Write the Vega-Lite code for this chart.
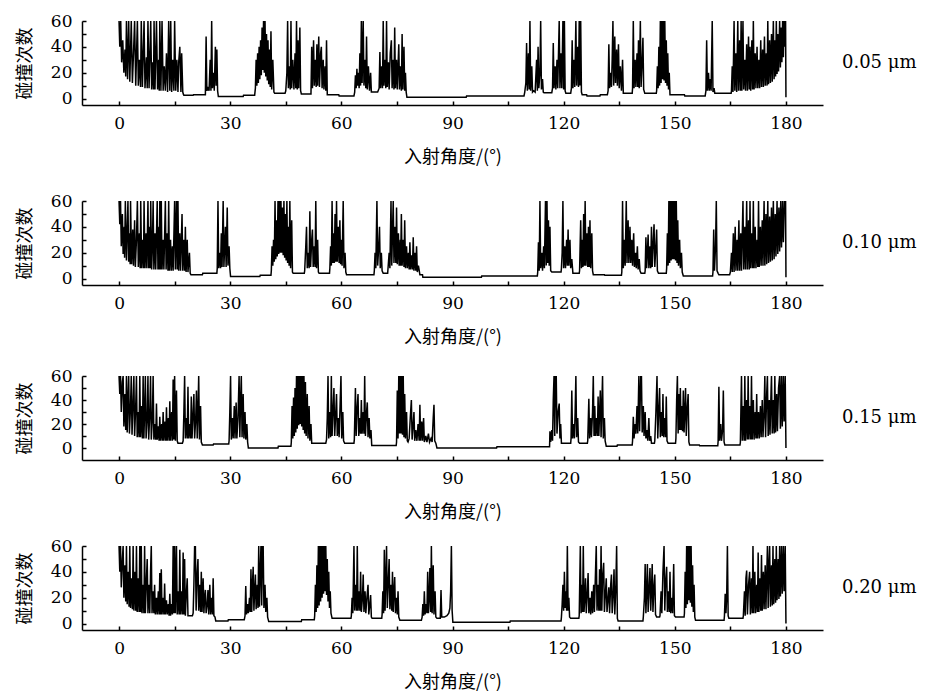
{"$schema":"https://vega.github.io/schema/vega-lite/v6.json","background":"white","padding":{"left":16,"top":12,"right":0,"bottom":0},
"config":{"view":{"stroke":null},
"axis":{"grid":false,"domainColor":"black","domainWidth":1.5,"tickColor":"black","tickWidth":1.5,"tickSize":-4,"labelColor":"black","labelFont":"DejaVu Serif","labelFontSize":17,"labelFlush":false,"labelOverlap":false,"titleColor":"black","titleFont":"Noto Sans CJK SC","titleFontSize":18,"titleFontWeight":"normal"},
"axisX":{"labelPadding":14,"titlePadding":17},
"axisY":{"labelPadding":14,"titlePadding":16},
"header":{"labelOrient":"right","labelAngle":0,"labelBaseline":"middle","labelFont":"DejaVu Serif","labelFontSize":18,"labelColor":"black","labelPadding":19,"labelExpr":"format(datum.value, '.2f') + ' μm'"}},
"spacing":21,
"vconcat":[
{"spacing":26,"vconcat":[
{"data":{"values":[{"p":0.05,"a":0,"c":60},{"p":0.05,"a":0.2,"c":40},{"p":0.05,"a":0.45,"c":60},{"p":0.05,"a":0.7,"c":28},{"p":0.05,"a":1.0,"c":45},{"p":0.05,"a":1.3,"c":20},{"p":0.05,"a":1.6,"c":38},{"p":0.05,"a":1.8,"c":17},{"p":0.05,"a":2.0,"c":60},{"p":0.05,"a":2.3,"c":15},{"p":0.05,"a":2.6,"c":60},{"p":0.05,"a":2.9,"c":13},{"p":0.05,"a":3.3,"c":60},{"p":0.05,"a":3.6,"c":12},{"p":0.05,"a":3.9,"c":35},{"p":0.05,"a":4.2,"c":60},{"p":0.05,"a":4.5,"c":10},{"p":0.05,"a":4.95,"c":60},{"p":0.05,"a":5.2,"c":10},{"p":0.05,"a":5.5,"c":30},{"p":0.05,"a":5.8,"c":9},{"p":0.05,"a":6.0,"c":60},{"p":0.05,"a":6.3,"c":9},{"p":0.05,"a":6.75,"c":60},{"p":0.05,"a":7.0,"c":8},{"p":0.05,"a":7.4,"c":32},{"p":0.05,"a":7.6,"c":8},{"p":0.05,"a":7.8,"c":60},{"p":0.05,"a":8.1,"c":8},{"p":0.05,"a":8.55,"c":60},{"p":0.05,"a":8.8,"c":7},{"p":0.05,"a":9.1,"c":28},{"p":0.05,"a":9.3,"c":7},{"p":0.05,"a":9.45,"c":60},{"p":0.05,"a":9.7,"c":7},{"p":0.05,"a":10.1,"c":60},{"p":0.05,"a":10.4,"c":7},{"p":0.05,"a":10.7,"c":30},{"p":0.05,"a":10.85,"c":6},{"p":0.05,"a":11.0,"c":60},{"p":0.05,"a":11.3,"c":6},{"p":0.05,"a":11.6,"c":60},{"p":0.05,"a":11.9,"c":6},{"p":0.05,"a":12.2,"c":25},{"p":0.05,"a":12.5,"c":6},{"p":0.05,"a":12.8,"c":35},{"p":0.05,"a":13.1,"c":5},{"p":0.05,"a":13.4,"c":60},{"p":0.05,"a":13.7,"c":6},{"p":0.05,"a":13.95,"c":60},{"p":0.05,"a":14.2,"c":5},{"p":0.05,"a":14.5,"c":30},{"p":0.05,"a":14.8,"c":6},{"p":0.05,"a":15.0,"c":60},{"p":0.05,"a":15.3,"c":6},{"p":0.05,"a":15.6,"c":30},{"p":0.05,"a":15.9,"c":5},{"p":0.05,"a":16.1,"c":28},{"p":0.05,"a":16.4,"c":40},{"p":0.05,"a":16.7,"c":5},{"p":0.05,"a":16.9,"c":35},{"p":0.05,"a":17.2,"c":5},{"p":0.05,"a":17.4,"c":3},{"p":0.05,"a":17.5,"c":2.5},{"p":0.05,"a":20.0,"c":2.5},{"p":0.05,"a":20.1,"c":3},{"p":0.05,"a":23.3,"c":3},{"p":0.05,"a":23.5,"c":48},{"p":0.05,"a":23.7,"c":6},{"p":0.05,"a":24.0,"c":8},{"p":0.05,"a":24.3,"c":6},{"p":0.05,"a":24.6,"c":30},{"p":0.05,"a":24.8,"c":6},{"p":0.05,"a":25.0,"c":60},{"p":0.05,"a":25.2,"c":8},{"p":0.05,"a":25.5,"c":20},{"p":0.05,"a":25.7,"c":6},{"p":0.05,"a":26.0,"c":40},{"p":0.05,"a":26.2,"c":10},{"p":0.05,"a":26.4,"c":38},{"p":0.05,"a":26.6,"c":6},{"p":0.05,"a":26.8,"c":1.5},{"p":0.05,"a":33.5,"c":1.5},{"p":0.05,"a":33.6,"c":2.5},{"p":0.05,"a":36.6,"c":2.5},{"p":0.05,"a":36.8,"c":8},{"p":0.05,"a":37.0,"c":30},{"p":0.05,"a":37.2,"c":10},{"p":0.05,"a":37.4,"c":35},{"p":0.05,"a":37.6,"c":12},{"p":0.05,"a":37.8,"c":40},{"p":0.05,"a":38.0,"c":15},{"p":0.05,"a":38.2,"c":45},{"p":0.05,"a":38.4,"c":18},{"p":0.05,"a":38.6,"c":55},{"p":0.05,"a":38.8,"c":22},{"p":0.05,"a":39.0,"c":60},{"p":0.05,"a":39.2,"c":20},{"p":0.05,"a":39.4,"c":60},{"p":0.05,"a":39.6,"c":17},{"p":0.05,"a":39.8,"c":50},{"p":0.05,"a":40.0,"c":14},{"p":0.05,"a":40.2,"c":45},{"p":0.05,"a":40.4,"c":11},{"p":0.05,"a":40.6,"c":38},{"p":0.05,"a":40.8,"c":9},{"p":0.05,"a":41.0,"c":52},{"p":0.05,"a":41.2,"c":7},{"p":0.05,"a":41.5,"c":30},{"p":0.05,"a":41.8,"c":5},{"p":0.05,"a":42.0,"c":4},{"p":0.05,"a":44.8,"c":4},{"p":0.05,"a":45.0,"c":6},{"p":0.05,"a":45.3,"c":20},{"p":0.05,"a":45.5,"c":60},{"p":0.05,"a":45.7,"c":8},{"p":0.05,"a":46.0,"c":25},{"p":0.05,"a":46.2,"c":7},{"p":0.05,"a":46.4,"c":60},{"p":0.05,"a":46.6,"c":8},{"p":0.05,"a":46.9,"c":30},{"p":0.05,"a":47.2,"c":7},{"p":0.05,"a":47.5,"c":35},{"p":0.05,"a":47.7,"c":8},{"p":0.05,"a":47.9,"c":60},{"p":0.05,"a":48.1,"c":7},{"p":0.05,"a":48.3,"c":45},{"p":0.05,"a":48.5,"c":8},{"p":0.05,"a":48.8,"c":55},{"p":0.05,"a":49.0,"c":6},{"p":0.05,"a":49.2,"c":3.5},{"p":0.05,"a":51.8,"c":3.5},{"p":0.05,"a":52.0,"c":40},{"p":0.05,"a":52.2,"c":8},{"p":0.05,"a":52.5,"c":45},{"p":0.05,"a":52.7,"c":10},{"p":0.05,"a":53.0,"c":30},{"p":0.05,"a":53.2,"c":9},{"p":0.05,"a":53.4,"c":42},{"p":0.05,"a":53.6,"c":10},{"p":0.05,"a":53.9,"c":48},{"p":0.05,"a":54.1,"c":9},{"p":0.05,"a":54.4,"c":35},{"p":0.05,"a":54.6,"c":40},{"p":0.05,"a":54.8,"c":8},{"p":0.05,"a":55.1,"c":30},{"p":0.05,"a":55.3,"c":7},{"p":0.05,"a":55.6,"c":25},{"p":0.05,"a":55.8,"c":6},{"p":0.05,"a":56.0,"c":45},{"p":0.05,"a":56.2,"c":3},{"p":0.05,"a":59.3,"c":3},{"p":0.05,"a":59.4,"c":2},{"p":0.05,"a":63.4,"c":2},{"p":0.05,"a":63.6,"c":5},{"p":0.05,"a":63.8,"c":18},{"p":0.05,"a":64.0,"c":8},{"p":0.05,"a":64.2,"c":23},{"p":0.05,"a":64.4,"c":10},{"p":0.05,"a":64.6,"c":20},{"p":0.05,"a":64.8,"c":8},{"p":0.05,"a":65.0,"c":35},{"p":0.05,"a":65.2,"c":10},{"p":0.05,"a":65.4,"c":60},{"p":0.05,"a":65.6,"c":12},{"p":0.05,"a":65.9,"c":60},{"p":0.05,"a":66.1,"c":10},{"p":0.05,"a":66.4,"c":30},{"p":0.05,"a":66.6,"c":8},{"p":0.05,"a":66.8,"c":48},{"p":0.05,"a":67.0,"c":7},{"p":0.05,"a":67.3,"c":25},{"p":0.05,"a":67.6,"c":6},{"p":0.05,"a":67.9,"c":20},{"p":0.05,"a":68.1,"c":5},{"p":0.05,"a":69.8,"c":5},{"p":0.05,"a":70.2,"c":8},{"p":0.05,"a":70.4,"c":36},{"p":0.05,"a":70.6,"c":8},{"p":0.05,"a":70.9,"c":25},{"p":0.05,"a":71.1,"c":8},{"p":0.05,"a":71.3,"c":60},{"p":0.05,"a":71.5,"c":10},{"p":0.05,"a":71.8,"c":30},{"p":0.05,"a":72.0,"c":8},{"p":0.05,"a":72.2,"c":60},{"p":0.05,"a":72.4,"c":9},{"p":0.05,"a":72.7,"c":28},{"p":0.05,"a":72.9,"c":7},{"p":0.05,"a":73.2,"c":35},{"p":0.05,"a":73.5,"c":45},{"p":0.05,"a":73.7,"c":8},{"p":0.05,"a":74.0,"c":30},{"p":0.05,"a":74.2,"c":7},{"p":0.05,"a":74.4,"c":55},{"p":0.05,"a":74.6,"c":8},{"p":0.05,"a":74.9,"c":30},{"p":0.05,"a":75.1,"c":7},{"p":0.05,"a":75.5,"c":42},{"p":0.05,"a":75.7,"c":7},{"p":0.05,"a":76.0,"c":25},{"p":0.05,"a":76.2,"c":6},{"p":0.05,"a":76.4,"c":50},{"p":0.05,"a":76.6,"c":7},{"p":0.05,"a":76.9,"c":40},{"p":0.05,"a":77.1,"c":6},{"p":0.05,"a":77.3,"c":20},{"p":0.05,"a":77.5,"c":5},{"p":0.05,"a":77.7,"c":1},{"p":0.05,"a":93.7,"c":1},{"p":0.05,"a":93.8,"c":2},{"p":0.05,"a":109.3,"c":2},{"p":0.05,"a":109.5,"c":5},{"p":0.05,"a":109.8,"c":12},{"p":0.05,"a":110.0,"c":43},{"p":0.05,"a":110.2,"c":6},{"p":0.05,"a":110.5,"c":35},{"p":0.05,"a":110.7,"c":7},{"p":0.05,"a":110.9,"c":60},{"p":0.05,"a":111.1,"c":6},{"p":0.05,"a":111.4,"c":25},{"p":0.05,"a":111.6,"c":5},{"p":0.05,"a":111.9,"c":6},{"p":0.05,"a":112.3,"c":5},{"p":0.05,"a":112.7,"c":30},{"p":0.05,"a":112.9,"c":6},{"p":0.05,"a":113.1,"c":40},{"p":0.05,"a":113.3,"c":8},{"p":0.05,"a":113.6,"c":20},{"p":0.05,"a":113.8,"c":60},{"p":0.05,"a":114.0,"c":7},{"p":0.05,"a":114.3,"c":15},{"p":0.05,"a":114.5,"c":5},{"p":0.05,"a":114.7,"c":4.5},{"p":0.05,"a":116.8,"c":4.5},{"p":0.05,"a":117.0,"c":8},{"p":0.05,"a":117.2,"c":43},{"p":0.05,"a":117.4,"c":8},{"p":0.05,"a":117.7,"c":25},{"p":0.05,"a":117.9,"c":7},{"p":0.05,"a":118.2,"c":30},{"p":0.05,"a":118.4,"c":8},{"p":0.05,"a":118.8,"c":60},{"p":0.05,"a":119.0,"c":8},{"p":0.05,"a":119.3,"c":35},{"p":0.05,"a":119.5,"c":8},{"p":0.05,"a":119.8,"c":60},{"p":0.05,"a":120.0,"c":7},{"p":0.05,"a":120.2,"c":60},{"p":0.05,"a":120.4,"c":6},{"p":0.05,"a":120.6,"c":4},{"p":0.05,"a":121.9,"c":4},{"p":0.05,"a":122.1,"c":8},{"p":0.05,"a":122.3,"c":45},{"p":0.05,"a":122.5,"c":8},{"p":0.05,"a":122.8,"c":30},{"p":0.05,"a":123.0,"c":9},{"p":0.05,"a":123.3,"c":60},{"p":0.05,"a":123.5,"c":10},{"p":0.05,"a":123.8,"c":40},{"p":0.05,"a":124.0,"c":9},{"p":0.05,"a":124.2,"c":60},{"p":0.05,"a":124.4,"c":10},{"p":0.05,"a":124.6,"c":60},{"p":0.05,"a":124.8,"c":5},{"p":0.05,"a":125.0,"c":3},{"p":0.05,"a":126.2,"c":3},{"p":0.05,"a":126.3,"c":2},{"p":0.05,"a":129.8,"c":2},{"p":0.05,"a":129.9,"c":3},{"p":0.05,"a":131.8,"c":3},{"p":0.05,"a":132.0,"c":6},{"p":0.05,"a":132.2,"c":42},{"p":0.05,"a":132.4,"c":8},{"p":0.05,"a":132.7,"c":20},{"p":0.05,"a":132.9,"c":9},{"p":0.05,"a":133.1,"c":30},{"p":0.05,"a":133.3,"c":60},{"p":0.05,"a":133.5,"c":10},{"p":0.05,"a":133.8,"c":48},{"p":0.05,"a":134.0,"c":12},{"p":0.05,"a":134.3,"c":38},{"p":0.05,"a":134.5,"c":10},{"p":0.05,"a":134.8,"c":42},{"p":0.05,"a":135.0,"c":8},{"p":0.05,"a":135.3,"c":25},{"p":0.05,"a":135.6,"c":6},{"p":0.05,"a":135.9,"c":30},{"p":0.05,"a":136.1,"c":4},{"p":0.05,"a":138.5,"c":4},{"p":0.05,"a":138.6,"c":8},{"p":0.05,"a":138.8,"c":60},{"p":0.05,"a":139.0,"c":8},{"p":0.05,"a":139.3,"c":30},{"p":0.05,"a":139.5,"c":9},{"p":0.05,"a":139.8,"c":35},{"p":0.05,"a":140.0,"c":9},{"p":0.05,"a":140.2,"c":45},{"p":0.05,"a":140.4,"c":8},{"p":0.05,"a":140.7,"c":60},{"p":0.05,"a":140.9,"c":9},{"p":0.05,"a":141.2,"c":30},{"p":0.05,"a":141.4,"c":47},{"p":0.05,"a":141.6,"c":7},{"p":0.05,"a":141.9,"c":4},{"p":0.05,"a":145.0,"c":4},{"p":0.05,"a":145.1,"c":6},{"p":0.05,"a":145.3,"c":25},{"p":0.05,"a":145.5,"c":8},{"p":0.05,"a":145.7,"c":40},{"p":0.05,"a":145.9,"c":10},{"p":0.05,"a":146.1,"c":60},{"p":0.05,"a":146.3,"c":12},{"p":0.05,"a":146.5,"c":60},{"p":0.05,"a":146.7,"c":15},{"p":0.05,"a":146.9,"c":60},{"p":0.05,"a":147.1,"c":14},{"p":0.05,"a":147.3,"c":60},{"p":0.05,"a":147.5,"c":12},{"p":0.05,"a":147.7,"c":45},{"p":0.05,"a":147.9,"c":10},{"p":0.05,"a":148.1,"c":35},{"p":0.05,"a":148.3,"c":7},{"p":0.05,"a":148.5,"c":20},{"p":0.05,"a":148.7,"c":3},{"p":0.05,"a":152.6,"c":3},{"p":0.05,"a":152.7,"c":2},{"p":0.05,"a":158.2,"c":2},{"p":0.05,"a":158.4,"c":6},{"p":0.05,"a":158.6,"c":45},{"p":0.05,"a":158.8,"c":6},{"p":0.05,"a":159.1,"c":20},{"p":0.05,"a":159.3,"c":6},{"p":0.05,"a":159.6,"c":15},{"p":0.05,"a":159.8,"c":6},{"p":0.05,"a":160.1,"c":60},{"p":0.05,"a":160.3,"c":5},{"p":0.05,"a":160.6,"c":8},{"p":0.05,"a":160.8,"c":4},{"p":0.05,"a":165.2,"c":4},{"p":0.05,"a":165.3,"c":6},{"p":0.05,"a":165.5,"c":25},{"p":0.05,"a":165.7,"c":5},{"p":0.05,"a":166.0,"c":60},{"p":0.05,"a":166.2,"c":6},{"p":0.05,"a":166.5,"c":35},{"p":0.05,"a":166.7,"c":5},{"p":0.05,"a":167.0,"c":60},{"p":0.05,"a":167.2,"c":6},{"p":0.05,"a":167.5,"c":45},{"p":0.05,"a":167.7,"c":6},{"p":0.05,"a":167.9,"c":60},{"p":0.05,"a":168.1,"c":6},{"p":0.05,"a":168.4,"c":60},{"p":0.05,"a":168.6,"c":7},{"p":0.05,"a":168.9,"c":30},{"p":0.05,"a":169.1,"c":6},{"p":0.05,"a":169.4,"c":42},{"p":0.05,"a":169.6,"c":6},{"p":0.05,"a":169.9,"c":48},{"p":0.05,"a":170.1,"c":7},{"p":0.05,"a":170.3,"c":40},{"p":0.05,"a":170.5,"c":6},{"p":0.05,"a":170.8,"c":45},{"p":0.05,"a":171.0,"c":7},{"p":0.05,"a":171.2,"c":60},{"p":0.05,"a":171.4,"c":7},{"p":0.05,"a":171.7,"c":35},{"p":0.05,"a":171.9,"c":8},{"p":0.05,"a":172.2,"c":40},{"p":0.05,"a":172.4,"c":8},{"p":0.05,"a":172.7,"c":30},{"p":0.05,"a":172.9,"c":8},{"p":0.05,"a":173.2,"c":45},{"p":0.05,"a":173.4,"c":9},{"p":0.05,"a":173.7,"c":38},{"p":0.05,"a":173.9,"c":9},{"p":0.05,"a":174.2,"c":48},{"p":0.05,"a":174.4,"c":10},{"p":0.05,"a":174.7,"c":35},{"p":0.05,"a":174.9,"c":10},{"p":0.05,"a":175.1,"c":60},{"p":0.05,"a":175.3,"c":11},{"p":0.05,"a":175.6,"c":45},{"p":0.05,"a":175.8,"c":12},{"p":0.05,"a":176.1,"c":50},{"p":0.05,"a":176.3,"c":13},{"p":0.05,"a":176.6,"c":60},{"p":0.05,"a":176.8,"c":15},{"p":0.05,"a":177.0,"c":45},{"p":0.05,"a":177.2,"c":17},{"p":0.05,"a":177.4,"c":60},{"p":0.05,"a":177.6,"c":19},{"p":0.05,"a":177.8,"c":50},{"p":0.05,"a":178.0,"c":21},{"p":0.05,"a":178.3,"c":60},{"p":0.05,"a":178.5,"c":24},{"p":0.05,"a":178.7,"c":55},{"p":0.05,"a":178.9,"c":28},{"p":0.05,"a":179.1,"c":60},{"p":0.05,"a":179.3,"c":32},{"p":0.05,"a":179.5,"c":60},{"p":0.05,"a":179.7,"c":40},{"p":0.05,"a":179.9,"c":60},{"p":0.05,"a":180.0,"c":1}]},
"facet":{"row":{"field":"p","type":"ordinal","title":null}},
"spec":{"width":741,"height":84,"mark":{"type":"line","color":"black","strokeWidth":1.5,"clip":true},
"encoding":{"x":{"field":"a","type":"quantitative","title":"入射角度/(°)","scale":{"domain":[-10,190],"nice":false,"zero":false},"axis":{"values":[0,15,30,45,60,75,90,105,120,135,150,165,180],"labelExpr":"datum.value % 30 == 0 ? datum.label : ''"}},
"y":{"field":"c","type":"quantitative","title":"碰撞次数","scale":{"domain":[-5,60],"nice":false,"zero":false},"axis":{"values":[0,10,20,30,40,50,60],"labelExpr":"datum.value % 20 == 0 ? datum.label : ''"}}}}},
{"data":{"values":[{"p":0.1,"a":0,"c":60},{"p":0.1,"a":0.2,"c":42},{"p":0.1,"a":0.4,"c":60},{"p":0.1,"a":0.6,"c":25},{"p":0.1,"a":0.9,"c":50},{"p":0.1,"a":1.1,"c":19},{"p":0.1,"a":1.4,"c":40},{"p":0.1,"a":1.5,"c":16},{"p":0.1,"a":1.7,"c":60},{"p":0.1,"a":2.0,"c":14},{"p":0.1,"a":2.4,"c":60},{"p":0.1,"a":2.6,"c":13},{"p":0.1,"a":2.8,"c":35},{"p":0.1,"a":3.0,"c":11},{"p":0.1,"a":3.1,"c":60},{"p":0.1,"a":3.4,"c":11},{"p":0.1,"a":3.7,"c":38},{"p":0.1,"a":3.9,"c":10},{"p":0.1,"a":4.2,"c":45},{"p":0.1,"a":4.4,"c":9},{"p":0.1,"a":4.7,"c":30},{"p":0.1,"a":4.95,"c":60},{"p":0.1,"a":5.2,"c":9},{"p":0.1,"a":5.5,"c":35},{"p":0.1,"a":5.7,"c":8},{"p":0.1,"a":5.85,"c":60},{"p":0.1,"a":6.1,"c":8},{"p":0.1,"a":6.4,"c":30},{"p":0.1,"a":6.6,"c":8},{"p":0.1,"a":6.75,"c":60},{"p":0.1,"a":7.0,"c":8},{"p":0.1,"a":7.3,"c":35},{"p":0.1,"a":7.5,"c":8},{"p":0.1,"a":7.8,"c":60},{"p":0.1,"a":8.0,"c":8},{"p":0.1,"a":8.3,"c":40},{"p":0.1,"a":8.4,"c":8},{"p":0.1,"a":8.55,"c":60},{"p":0.1,"a":8.8,"c":7},{"p":0.1,"a":9.0,"c":25},{"p":0.1,"a":9.2,"c":60},{"p":0.1,"a":9.4,"c":7},{"p":0.1,"a":9.7,"c":35},{"p":0.1,"a":9.9,"c":7},{"p":0.1,"a":10.3,"c":60},{"p":0.1,"a":10.5,"c":7},{"p":0.1,"a":10.8,"c":40},{"p":0.1,"a":10.9,"c":7},{"p":0.1,"a":11.0,"c":60},{"p":0.1,"a":11.2,"c":7},{"p":0.1,"a":11.4,"c":60},{"p":0.1,"a":11.6,"c":7},{"p":0.1,"a":11.9,"c":30},{"p":0.1,"a":12.1,"c":7},{"p":0.1,"a":12.5,"c":60},{"p":0.1,"a":12.7,"c":7},{"p":0.1,"a":13.0,"c":35},{"p":0.1,"a":13.2,"c":6},{"p":0.1,"a":13.4,"c":60},{"p":0.1,"a":13.6,"c":6},{"p":0.1,"a":13.9,"c":30},{"p":0.1,"a":14.1,"c":6},{"p":0.1,"a":14.4,"c":25},{"p":0.1,"a":14.6,"c":6},{"p":0.1,"a":15.0,"c":60},{"p":0.1,"a":15.2,"c":7},{"p":0.1,"a":15.5,"c":60},{"p":0.1,"a":15.7,"c":7},{"p":0.1,"a":15.9,"c":60},{"p":0.1,"a":16.1,"c":6},{"p":0.1,"a":16.4,"c":35},{"p":0.1,"a":16.6,"c":6},{"p":0.1,"a":17.0,"c":50},{"p":0.1,"a":17.2,"c":6},{"p":0.1,"a":17.5,"c":30},{"p":0.1,"a":17.7,"c":6},{"p":0.1,"a":17.9,"c":40},{"p":0.1,"a":18.1,"c":5},{"p":0.1,"a":18.4,"c":30},{"p":0.1,"a":18.6,"c":5},{"p":0.1,"a":19.0,"c":20},{"p":0.1,"a":19.2,"c":4},{"p":0.1,"a":19.4,"c":3},{"p":0.1,"a":22.5,"c":3},{"p":0.1,"a":22.6,"c":4},{"p":0.1,"a":26.4,"c":4},{"p":0.1,"a":26.5,"c":8},{"p":0.1,"a":26.7,"c":60},{"p":0.1,"a":26.9,"c":8},{"p":0.1,"a":27.2,"c":20},{"p":0.1,"a":27.4,"c":8},{"p":0.1,"a":27.6,"c":35},{"p":0.1,"a":27.8,"c":9},{"p":0.1,"a":28.1,"c":60},{"p":0.1,"a":28.3,"c":9},{"p":0.1,"a":28.7,"c":40},{"p":0.1,"a":28.9,"c":9},{"p":0.1,"a":29.2,"c":55},{"p":0.1,"a":29.4,"c":10},{"p":0.1,"a":29.7,"c":25},{"p":0.1,"a":29.9,"c":8},{"p":0.1,"a":30.1,"c":1.5},{"p":0.1,"a":38.0,"c":1.5},{"p":0.1,"a":38.1,"c":2.5},{"p":0.1,"a":41.0,"c":2.5},{"p":0.1,"a":41.1,"c":6},{"p":0.1,"a":41.3,"c":25},{"p":0.1,"a":41.5,"c":10},{"p":0.1,"a":41.7,"c":30},{"p":0.1,"a":41.9,"c":13},{"p":0.1,"a":42.1,"c":60},{"p":0.1,"a":42.3,"c":15},{"p":0.1,"a":42.5,"c":45},{"p":0.1,"a":42.7,"c":17},{"p":0.1,"a":42.9,"c":60},{"p":0.1,"a":43.1,"c":19},{"p":0.1,"a":43.3,"c":60},{"p":0.1,"a":43.5,"c":20},{"p":0.1,"a":43.7,"c":60},{"p":0.1,"a":43.9,"c":20},{"p":0.1,"a":44.1,"c":55},{"p":0.1,"a":44.3,"c":18},{"p":0.1,"a":44.5,"c":60},{"p":0.1,"a":44.7,"c":16},{"p":0.1,"a":44.9,"c":50},{"p":0.1,"a":45.1,"c":14},{"p":0.1,"a":45.3,"c":60},{"p":0.1,"a":45.5,"c":12},{"p":0.1,"a":45.7,"c":40},{"p":0.1,"a":45.9,"c":10},{"p":0.1,"a":46.1,"c":60},{"p":0.1,"a":46.3,"c":8},{"p":0.1,"a":46.6,"c":45},{"p":0.1,"a":46.8,"c":5},{"p":0.1,"a":47.0,"c":4},{"p":0.1,"a":50.0,"c":4},{"p":0.1,"a":50.1,"c":6},{"p":0.1,"a":50.4,"c":25},{"p":0.1,"a":50.6,"c":40},{"p":0.1,"a":50.8,"c":8},{"p":0.1,"a":51.1,"c":20},{"p":0.1,"a":51.3,"c":8},{"p":0.1,"a":51.5,"c":52},{"p":0.1,"a":51.7,"c":9},{"p":0.1,"a":52.0,"c":30},{"p":0.1,"a":52.2,"c":38},{"p":0.1,"a":52.4,"c":9},{"p":0.1,"a":52.7,"c":25},{"p":0.1,"a":52.9,"c":9},{"p":0.1,"a":53.1,"c":60},{"p":0.1,"a":53.3,"c":8},{"p":0.1,"a":53.6,"c":30},{"p":0.1,"a":53.8,"c":5},{"p":0.1,"a":54.0,"c":4},{"p":0.1,"a":56.8,"c":4},{"p":0.1,"a":56.9,"c":8},{"p":0.1,"a":57.1,"c":25},{"p":0.1,"a":57.3,"c":10},{"p":0.1,"a":57.5,"c":60},{"p":0.1,"a":57.7,"c":12},{"p":0.1,"a":57.9,"c":35},{"p":0.1,"a":58.1,"c":12},{"p":0.1,"a":58.3,"c":50},{"p":0.1,"a":58.5,"c":13},{"p":0.1,"a":58.7,"c":60},{"p":0.1,"a":58.9,"c":13},{"p":0.1,"a":59.2,"c":40},{"p":0.1,"a":59.4,"c":12},{"p":0.1,"a":59.6,"c":45},{"p":0.1,"a":59.8,"c":11},{"p":0.1,"a":60.0,"c":30},{"p":0.1,"a":60.2,"c":10},{"p":0.1,"a":60.5,"c":60},{"p":0.1,"a":60.7,"c":8},{"p":0.1,"a":61.0,"c":20},{"p":0.1,"a":61.2,"c":5},{"p":0.1,"a":61.4,"c":3},{"p":0.1,"a":68.8,"c":3},{"p":0.1,"a":68.9,"c":6},{"p":0.1,"a":69.1,"c":20},{"p":0.1,"a":69.3,"c":8},{"p":0.1,"a":69.6,"c":60},{"p":0.1,"a":69.8,"c":10},{"p":0.1,"a":70.1,"c":25},{"p":0.1,"a":70.3,"c":40},{"p":0.1,"a":70.5,"c":8},{"p":0.1,"a":70.8,"c":20},{"p":0.1,"a":71.0,"c":6},{"p":0.1,"a":71.3,"c":4},{"p":0.1,"a":72.5,"c":4},{"p":0.1,"a":72.6,"c":8},{"p":0.1,"a":72.9,"c":20},{"p":0.1,"a":73.1,"c":8},{"p":0.1,"a":73.4,"c":60},{"p":0.1,"a":73.6,"c":10},{"p":0.1,"a":74.0,"c":60},{"p":0.1,"a":74.2,"c":12},{"p":0.1,"a":74.5,"c":40},{"p":0.1,"a":74.7,"c":12},{"p":0.1,"a":74.9,"c":55},{"p":0.1,"a":75.1,"c":11},{"p":0.1,"a":75.4,"c":35},{"p":0.1,"a":75.6,"c":10},{"p":0.1,"a":75.9,"c":30},{"p":0.1,"a":76.0,"c":10},{"p":0.1,"a":76.2,"c":50},{"p":0.1,"a":76.4,"c":10},{"p":0.1,"a":76.7,"c":30},{"p":0.1,"a":76.9,"c":9},{"p":0.1,"a":77.1,"c":45},{"p":0.1,"a":77.3,"c":8},{"p":0.1,"a":77.6,"c":25},{"p":0.1,"a":77.8,"c":8},{"p":0.1,"a":78.1,"c":20},{"p":0.1,"a":78.3,"c":7},{"p":0.1,"a":78.5,"c":28},{"p":0.1,"a":78.7,"c":7},{"p":0.1,"a":79.0,"c":18},{"p":0.1,"a":79.2,"c":7},{"p":0.1,"a":79.4,"c":32},{"p":0.1,"a":79.6,"c":6},{"p":0.1,"a":79.9,"c":20},{"p":0.1,"a":80.1,"c":6},{"p":0.1,"a":80.3,"c":25},{"p":0.1,"a":80.5,"c":5},{"p":0.1,"a":80.8,"c":10},{"p":0.1,"a":81.2,"c":3},{"p":0.1,"a":81.9,"c":3},{"p":0.1,"a":82.0,"c":1},{"p":0.1,"a":97.8,"c":1},{"p":0.1,"a":97.9,"c":2},{"p":0.1,"a":112.9,"c":2},{"p":0.1,"a":113.0,"c":5},{"p":0.1,"a":113.2,"c":28},{"p":0.1,"a":113.4,"c":6},{"p":0.1,"a":113.6,"c":60},{"p":0.1,"a":113.8,"c":8},{"p":0.1,"a":114.1,"c":20},{"p":0.1,"a":114.3,"c":6},{"p":0.1,"a":114.6,"c":25},{"p":0.1,"a":114.8,"c":8},{"p":0.1,"a":115.1,"c":60},{"p":0.1,"a":115.3,"c":10},{"p":0.1,"a":115.5,"c":60},{"p":0.1,"a":115.7,"c":12},{"p":0.1,"a":115.9,"c":45},{"p":0.1,"a":116.1,"c":10},{"p":0.1,"a":116.3,"c":40},{"p":0.1,"a":116.5,"c":6},{"p":0.1,"a":116.8,"c":5},{"p":0.1,"a":119.3,"c":5},{"p":0.1,"a":119.4,"c":8},{"p":0.1,"a":119.6,"c":20},{"p":0.1,"a":119.8,"c":60},{"p":0.1,"a":120.0,"c":8},{"p":0.1,"a":120.3,"c":25},{"p":0.1,"a":120.5,"c":8},{"p":0.1,"a":120.8,"c":30},{"p":0.1,"a":121.0,"c":10},{"p":0.1,"a":121.2,"c":38},{"p":0.1,"a":121.4,"c":10},{"p":0.1,"a":121.7,"c":30},{"p":0.1,"a":121.9,"c":8},{"p":0.1,"a":122.2,"c":15},{"p":0.1,"a":122.5,"c":4},{"p":0.1,"a":124.2,"c":4},{"p":0.1,"a":124.3,"c":6},{"p":0.1,"a":124.6,"c":45},{"p":0.1,"a":124.8,"c":8},{"p":0.1,"a":125.0,"c":30},{"p":0.1,"a":125.2,"c":9},{"p":0.1,"a":125.4,"c":50},{"p":0.1,"a":125.6,"c":10},{"p":0.1,"a":125.8,"c":60},{"p":0.1,"a":126.0,"c":10},{"p":0.1,"a":126.3,"c":35},{"p":0.1,"a":126.5,"c":9},{"p":0.1,"a":126.7,"c":40},{"p":0.1,"a":126.9,"c":9},{"p":0.1,"a":127.1,"c":45},{"p":0.1,"a":127.3,"c":8},{"p":0.1,"a":127.6,"c":35},{"p":0.1,"a":127.8,"c":6},{"p":0.1,"a":128.0,"c":3},{"p":0.1,"a":131.0,"c":3},{"p":0.1,"a":131.1,"c":2.5},{"p":0.1,"a":135.6,"c":2.5},{"p":0.1,"a":135.7,"c":5},{"p":0.1,"a":135.9,"c":60},{"p":0.1,"a":136.1,"c":8},{"p":0.1,"a":136.4,"c":30},{"p":0.1,"a":136.6,"c":10},{"p":0.1,"a":136.9,"c":60},{"p":0.1,"a":137.1,"c":12},{"p":0.1,"a":137.4,"c":45},{"p":0.1,"a":137.6,"c":12},{"p":0.1,"a":137.9,"c":40},{"p":0.1,"a":138.1,"c":12},{"p":0.1,"a":138.4,"c":30},{"p":0.1,"a":138.6,"c":10},{"p":0.1,"a":138.9,"c":35},{"p":0.1,"a":139.1,"c":9},{"p":0.1,"a":139.4,"c":20},{"p":0.1,"a":139.6,"c":8},{"p":0.1,"a":139.9,"c":25},{"p":0.1,"a":140.1,"c":7},{"p":0.1,"a":140.4,"c":15},{"p":0.1,"a":140.6,"c":6},{"p":0.1,"a":140.9,"c":4},{"p":0.1,"a":141.9,"c":4},{"p":0.1,"a":142.0,"c":6},{"p":0.1,"a":142.2,"c":32},{"p":0.1,"a":142.4,"c":8},{"p":0.1,"a":142.6,"c":20},{"p":0.1,"a":142.8,"c":34},{"p":0.1,"a":143.0,"c":8},{"p":0.1,"a":143.3,"c":25},{"p":0.1,"a":143.5,"c":8},{"p":0.1,"a":143.7,"c":40},{"p":0.1,"a":143.9,"c":9},{"p":0.1,"a":144.2,"c":30},{"p":0.1,"a":144.4,"c":42},{"p":0.1,"a":144.6,"c":9},{"p":0.1,"a":144.9,"c":25},{"p":0.1,"a":145.1,"c":38},{"p":0.1,"a":145.3,"c":6},{"p":0.1,"a":145.6,"c":4},{"p":0.1,"a":147.7,"c":4},{"p":0.1,"a":147.8,"c":8},{"p":0.1,"a":148.0,"c":35},{"p":0.1,"a":148.2,"c":10},{"p":0.1,"a":148.4,"c":60},{"p":0.1,"a":148.6,"c":12},{"p":0.1,"a":148.8,"c":60},{"p":0.1,"a":149.0,"c":14},{"p":0.1,"a":149.2,"c":60},{"p":0.1,"a":149.4,"c":15},{"p":0.1,"a":149.6,"c":60},{"p":0.1,"a":149.8,"c":15},{"p":0.1,"a":150.0,"c":60},{"p":0.1,"a":150.2,"c":14},{"p":0.1,"a":150.4,"c":60},{"p":0.1,"a":150.6,"c":12},{"p":0.1,"a":150.8,"c":45},{"p":0.1,"a":151.0,"c":10},{"p":0.1,"a":151.3,"c":30},{"p":0.1,"a":151.5,"c":8},{"p":0.1,"a":151.8,"c":20},{"p":0.1,"a":152.0,"c":5},{"p":0.1,"a":152.3,"c":2},{"p":0.1,"a":160.2,"c":2},{"p":0.1,"a":160.3,"c":5},{"p":0.1,"a":160.5,"c":38},{"p":0.1,"a":160.7,"c":6},{"p":0.1,"a":161.0,"c":25},{"p":0.1,"a":161.2,"c":60},{"p":0.1,"a":161.4,"c":6},{"p":0.1,"a":161.7,"c":4},{"p":0.1,"a":161.9,"c":3},{"p":0.1,"a":164.8,"c":3},{"p":0.1,"a":165.0,"c":5},{"p":0.1,"a":165.3,"c":20},{"p":0.1,"a":165.5,"c":5},{"p":0.1,"a":165.8,"c":35},{"p":0.1,"a":166.0,"c":5},{"p":0.1,"a":166.3,"c":40},{"p":0.1,"a":166.5,"c":6},{"p":0.1,"a":166.8,"c":30},{"p":0.1,"a":167.0,"c":6},{"p":0.1,"a":167.3,"c":45},{"p":0.1,"a":167.5,"c":6},{"p":0.1,"a":167.8,"c":35},{"p":0.1,"a":168.0,"c":6},{"p":0.1,"a":168.4,"c":60},{"p":0.1,"a":168.6,"c":7},{"p":0.1,"a":168.9,"c":40},{"p":0.1,"a":169.1,"c":7},{"p":0.1,"a":169.4,"c":60},{"p":0.1,"a":169.6,"c":7},{"p":0.1,"a":169.9,"c":45},{"p":0.1,"a":170.1,"c":7},{"p":0.1,"a":170.3,"c":60},{"p":0.1,"a":170.5,"c":8},{"p":0.1,"a":170.8,"c":35},{"p":0.1,"a":171.0,"c":8},{"p":0.1,"a":171.2,"c":60},{"p":0.1,"a":171.4,"c":8},{"p":0.1,"a":171.7,"c":40},{"p":0.1,"a":171.9,"c":8},{"p":0.1,"a":172.2,"c":30},{"p":0.1,"a":172.4,"c":9},{"p":0.1,"a":172.6,"c":60},{"p":0.1,"a":172.8,"c":9},{"p":0.1,"a":173.1,"c":40},{"p":0.1,"a":173.3,"c":10},{"p":0.1,"a":173.6,"c":45},{"p":0.1,"a":173.8,"c":10},{"p":0.1,"a":174.1,"c":60},{"p":0.1,"a":174.3,"c":10},{"p":0.1,"a":174.6,"c":50},{"p":0.1,"a":174.8,"c":11},{"p":0.1,"a":175.1,"c":60},{"p":0.1,"a":175.3,"c":12},{"p":0.1,"a":175.6,"c":48},{"p":0.1,"a":175.8,"c":13},{"p":0.1,"a":176.1,"c":55},{"p":0.1,"a":176.3,"c":14},{"p":0.1,"a":176.6,"c":60},{"p":0.1,"a":176.8,"c":15},{"p":0.1,"a":177.1,"c":50},{"p":0.1,"a":177.3,"c":17},{"p":0.1,"a":177.6,"c":60},{"p":0.1,"a":177.8,"c":19},{"p":0.1,"a":178.1,"c":55},{"p":0.1,"a":178.3,"c":21},{"p":0.1,"a":178.6,"c":60},{"p":0.1,"a":178.8,"c":24},{"p":0.1,"a":179.1,"c":60},{"p":0.1,"a":179.3,"c":28},{"p":0.1,"a":179.6,"c":60},{"p":0.1,"a":179.9,"c":60},{"p":0.1,"a":180.0,"c":1}]},
"facet":{"row":{"field":"p","type":"ordinal","title":null}},
"spec":{"width":741,"height":84,"mark":{"type":"line","color":"black","strokeWidth":1.5,"clip":true},
"encoding":{"x":{"field":"a","type":"quantitative","title":"入射角度/(°)","scale":{"domain":[-10,190],"nice":false,"zero":false},"axis":{"values":[0,15,30,45,60,75,90,105,120,135,150,165,180],"labelExpr":"datum.value % 30 == 0 ? datum.label : ''"}},
"y":{"field":"c","type":"quantitative","title":"碰撞次数","scale":{"domain":[-5,60],"nice":false,"zero":false},"axis":{"values":[0,10,20,30,40,50,60],"labelExpr":"datum.value % 20 == 0 ? datum.label : ''"}}}}}
]},
{"spacing":16,"vconcat":[
{"data":{"values":[{"p":0.15,"a":0,"c":60},{"p":0.15,"a":0.2,"c":45},{"p":0.15,"a":0.4,"c":60},{"p":0.15,"a":0.6,"c":30},{"p":0.15,"a":0.9,"c":55},{"p":0.15,"a":1.1,"c":60},{"p":0.15,"a":1.3,"c":18},{"p":0.15,"a":1.6,"c":45},{"p":0.15,"a":1.8,"c":15},{"p":0.15,"a":2.0,"c":60},{"p":0.15,"a":2.2,"c":13},{"p":0.15,"a":2.4,"c":40},{"p":0.15,"a":2.6,"c":60},{"p":0.15,"a":2.8,"c":12},{"p":0.15,"a":3.1,"c":35},{"p":0.15,"a":3.3,"c":60},{"p":0.15,"a":3.5,"c":11},{"p":0.15,"a":3.8,"c":40},{"p":0.15,"a":4.0,"c":60},{"p":0.15,"a":4.2,"c":10},{"p":0.15,"a":4.5,"c":35},{"p":0.15,"a":4.7,"c":60},{"p":0.15,"a":4.9,"c":9},{"p":0.15,"a":5.2,"c":30},{"p":0.15,"a":5.4,"c":9},{"p":0.15,"a":5.6,"c":60},{"p":0.15,"a":5.8,"c":9},{"p":0.15,"a":6.1,"c":35},{"p":0.15,"a":6.3,"c":8},{"p":0.15,"a":6.5,"c":60},{"p":0.15,"a":6.7,"c":8},{"p":0.15,"a":6.9,"c":30},{"p":0.15,"a":7.1,"c":60},{"p":0.15,"a":7.3,"c":8},{"p":0.15,"a":7.6,"c":25},{"p":0.15,"a":7.8,"c":60},{"p":0.15,"a":8.0,"c":7},{"p":0.15,"a":8.3,"c":30},{"p":0.15,"a":8.5,"c":60},{"p":0.15,"a":8.7,"c":7},{"p":0.15,"a":9.0,"c":25},{"p":0.15,"a":9.2,"c":60},{"p":0.15,"a":9.4,"c":7},{"p":0.15,"a":9.7,"c":20},{"p":0.15,"a":9.9,"c":7},{"p":0.15,"a":10.1,"c":37},{"p":0.15,"a":10.3,"c":7},{"p":0.15,"a":10.6,"c":18},{"p":0.15,"a":10.8,"c":6},{"p":0.15,"a":11.0,"c":26},{"p":0.15,"a":11.2,"c":6},{"p":0.15,"a":11.5,"c":20},{"p":0.15,"a":11.7,"c":6},{"p":0.15,"a":11.9,"c":30},{"p":0.15,"a":12.1,"c":6},{"p":0.15,"a":12.4,"c":22},{"p":0.15,"a":12.6,"c":6},{"p":0.15,"a":12.8,"c":34},{"p":0.15,"a":13.0,"c":6},{"p":0.15,"a":13.3,"c":25},{"p":0.15,"a":13.5,"c":6},{"p":0.15,"a":13.7,"c":39},{"p":0.15,"a":13.9,"c":6},{"p":0.15,"a":14.2,"c":30},{"p":0.15,"a":14.4,"c":6},{"p":0.15,"a":14.6,"c":57},{"p":0.15,"a":14.8,"c":7},{"p":0.15,"a":15.0,"c":60},{"p":0.15,"a":15.2,"c":6},{"p":0.15,"a":15.5,"c":48},{"p":0.15,"a":15.7,"c":6},{"p":0.15,"a":15.9,"c":4},{"p":0.15,"a":17.1,"c":4},{"p":0.15,"a":17.3,"c":6},{"p":0.15,"a":17.5,"c":30},{"p":0.15,"a":17.7,"c":60},{"p":0.15,"a":17.9,"c":8},{"p":0.15,"a":18.2,"c":25},{"p":0.15,"a":18.4,"c":8},{"p":0.15,"a":18.6,"c":51},{"p":0.15,"a":18.8,"c":8},{"p":0.15,"a":19.1,"c":20},{"p":0.15,"a":19.3,"c":8},{"p":0.15,"a":19.5,"c":43},{"p":0.15,"a":19.7,"c":8},{"p":0.15,"a":20.0,"c":30},{"p":0.15,"a":20.2,"c":45},{"p":0.15,"a":20.4,"c":8},{"p":0.15,"a":20.7,"c":25},{"p":0.15,"a":20.9,"c":48},{"p":0.15,"a":21.1,"c":8},{"p":0.15,"a":21.3,"c":30},{"p":0.15,"a":21.5,"c":60},{"p":0.15,"a":21.7,"c":7},{"p":0.15,"a":22.0,"c":35},{"p":0.15,"a":22.2,"c":5},{"p":0.15,"a":22.5,"c":2.5},{"p":0.15,"a":25.4,"c":2.5},{"p":0.15,"a":25.5,"c":3.3},{"p":0.15,"a":29.6,"c":3.3},{"p":0.15,"a":29.7,"c":6},{"p":0.15,"a":29.9,"c":30},{"p":0.15,"a":30.1,"c":60},{"p":0.15,"a":30.3,"c":7},{"p":0.15,"a":30.6,"c":25},{"p":0.15,"a":30.8,"c":8},{"p":0.15,"a":31.1,"c":35},{"p":0.15,"a":31.3,"c":8},{"p":0.15,"a":31.6,"c":38},{"p":0.15,"a":31.8,"c":8},{"p":0.15,"a":32.1,"c":25},{"p":0.15,"a":32.4,"c":60},{"p":0.15,"a":32.6,"c":9},{"p":0.15,"a":32.8,"c":40},{"p":0.15,"a":33.0,"c":60},{"p":0.15,"a":33.2,"c":9},{"p":0.15,"a":33.5,"c":45},{"p":0.15,"a":33.7,"c":8},{"p":0.15,"a":34.0,"c":30},{"p":0.15,"a":34.2,"c":7},{"p":0.15,"a":34.5,"c":20},{"p":0.15,"a":34.7,"c":5},{"p":0.15,"a":34.9,"c":0},{"p":0.15,"a":42.9,"c":0},{"p":0.15,"a":43.0,"c":1.5},{"p":0.15,"a":46.4,"c":1.5},{"p":0.15,"a":46.5,"c":5},{"p":0.15,"a":46.7,"c":35},{"p":0.15,"a":46.9,"c":8},{"p":0.15,"a":47.1,"c":42},{"p":0.15,"a":47.3,"c":10},{"p":0.15,"a":47.5,"c":50},{"p":0.15,"a":47.7,"c":13},{"p":0.15,"a":47.9,"c":60},{"p":0.15,"a":48.1,"c":16},{"p":0.15,"a":48.3,"c":60},{"p":0.15,"a":48.5,"c":19},{"p":0.15,"a":48.7,"c":60},{"p":0.15,"a":48.9,"c":20},{"p":0.15,"a":49.1,"c":60},{"p":0.15,"a":49.3,"c":18},{"p":0.15,"a":49.5,"c":60},{"p":0.15,"a":49.7,"c":15},{"p":0.15,"a":49.9,"c":60},{"p":0.15,"a":50.1,"c":12},{"p":0.15,"a":50.3,"c":55},{"p":0.15,"a":50.5,"c":10},{"p":0.15,"a":50.8,"c":45},{"p":0.15,"a":51.0,"c":8},{"p":0.15,"a":51.3,"c":35},{"p":0.15,"a":51.5,"c":6},{"p":0.15,"a":51.8,"c":20},{"p":0.15,"a":52.0,"c":4},{"p":0.15,"a":55.8,"c":4},{"p":0.15,"a":56.0,"c":7},{"p":0.15,"a":56.2,"c":25},{"p":0.15,"a":56.4,"c":60},{"p":0.15,"a":56.6,"c":8},{"p":0.15,"a":56.9,"c":30},{"p":0.15,"a":57.1,"c":9},{"p":0.15,"a":57.3,"c":60},{"p":0.15,"a":57.5,"c":10},{"p":0.15,"a":57.8,"c":35},{"p":0.15,"a":58.0,"c":50},{"p":0.15,"a":58.2,"c":10},{"p":0.15,"a":58.5,"c":30},{"p":0.15,"a":58.7,"c":45},{"p":0.15,"a":58.9,"c":10},{"p":0.15,"a":59.2,"c":25},{"p":0.15,"a":59.4,"c":9},{"p":0.15,"a":59.7,"c":40},{"p":0.15,"a":59.9,"c":60},{"p":0.15,"a":60.1,"c":8},{"p":0.15,"a":60.4,"c":30},{"p":0.15,"a":60.6,"c":6},{"p":0.15,"a":60.9,"c":4},{"p":0.15,"a":63.4,"c":4},{"p":0.15,"a":63.5,"c":7},{"p":0.15,"a":63.8,"c":50},{"p":0.15,"a":64.0,"c":10},{"p":0.15,"a":64.2,"c":30},{"p":0.15,"a":64.5,"c":45},{"p":0.15,"a":64.7,"c":10},{"p":0.15,"a":65.0,"c":25},{"p":0.15,"a":65.2,"c":12},{"p":0.15,"a":65.4,"c":40},{"p":0.15,"a":65.6,"c":12},{"p":0.15,"a":65.9,"c":30},{"p":0.15,"a":66.1,"c":12},{"p":0.15,"a":66.3,"c":60},{"p":0.15,"a":66.5,"c":10},{"p":0.15,"a":66.8,"c":30},{"p":0.15,"a":67.0,"c":38},{"p":0.15,"a":67.2,"c":9},{"p":0.15,"a":67.5,"c":25},{"p":0.15,"a":67.7,"c":8},{"p":0.15,"a":68.0,"c":15},{"p":0.15,"a":68.2,"c":2},{"p":0.15,"a":74.8,"c":2},{"p":0.15,"a":74.9,"c":5},{"p":0.15,"a":75.1,"c":48},{"p":0.15,"a":75.3,"c":8},{"p":0.15,"a":75.5,"c":60},{"p":0.15,"a":75.7,"c":12},{"p":0.15,"a":75.9,"c":60},{"p":0.15,"a":76.1,"c":12},{"p":0.15,"a":76.3,"c":60},{"p":0.15,"a":76.5,"c":11},{"p":0.15,"a":76.7,"c":60},{"p":0.15,"a":76.9,"c":9},{"p":0.15,"a":77.1,"c":45},{"p":0.15,"a":77.3,"c":8},{"p":0.15,"a":77.6,"c":30},{"p":0.15,"a":77.8,"c":6},{"p":0.15,"a":78.0,"c":5},{"p":0.15,"a":78.3,"c":8},{"p":0.15,"a":78.6,"c":25},{"p":0.15,"a":78.9,"c":40},{"p":0.15,"a":79.1,"c":7},{"p":0.15,"a":79.4,"c":20},{"p":0.15,"a":79.6,"c":30},{"p":0.15,"a":79.8,"c":6},{"p":0.15,"a":80.1,"c":15},{"p":0.15,"a":80.4,"c":6},{"p":0.15,"a":80.7,"c":20},{"p":0.15,"a":81.0,"c":6},{"p":0.15,"a":81.2,"c":36},{"p":0.15,"a":81.4,"c":6},{"p":0.15,"a":81.7,"c":22},{"p":0.15,"a":81.9,"c":6},{"p":0.15,"a":82.2,"c":25},{"p":0.15,"a":82.4,"c":5},{"p":0.15,"a":82.8,"c":10},{"p":0.15,"a":83.1,"c":5},{"p":0.15,"a":83.5,"c":12},{"p":0.15,"a":83.8,"c":5},{"p":0.15,"a":84.2,"c":8},{"p":0.15,"a":84.5,"c":5},{"p":0.15,"a":84.8,"c":25},{"p":0.15,"a":85.0,"c":36},{"p":0.15,"a":85.2,"c":6},{"p":0.15,"a":85.5,"c":4},{"p":0.15,"a":85.8,"c":0},{"p":0.15,"a":101.9,"c":0},{"p":0.15,"a":102.0,"c":1},{"p":0.15,"a":116.2,"c":1},{"p":0.15,"a":116.3,"c":14},{"p":0.15,"a":116.5,"c":5},{"p":0.15,"a":116.8,"c":15},{"p":0.15,"a":117.0,"c":6},{"p":0.15,"a":117.2,"c":40},{"p":0.15,"a":117.4,"c":60},{"p":0.15,"a":117.6,"c":10},{"p":0.15,"a":117.8,"c":60},{"p":0.15,"a":118.0,"c":60},{"p":0.15,"a":118.2,"c":12},{"p":0.15,"a":118.5,"c":30},{"p":0.15,"a":118.8,"c":37},{"p":0.15,"a":119.0,"c":8},{"p":0.15,"a":119.2,"c":20},{"p":0.15,"a":119.4,"c":4},{"p":0.15,"a":121.9,"c":4},{"p":0.15,"a":122.0,"c":8},{"p":0.15,"a":122.2,"c":48},{"p":0.15,"a":122.4,"c":8},{"p":0.15,"a":122.7,"c":20},{"p":0.15,"a":122.9,"c":8},{"p":0.15,"a":123.1,"c":30},{"p":0.15,"a":123.3,"c":60},{"p":0.15,"a":123.5,"c":9},{"p":0.15,"a":123.8,"c":25},{"p":0.15,"a":124.0,"c":5},{"p":0.15,"a":124.3,"c":4},{"p":0.15,"a":126.4,"c":4},{"p":0.15,"a":126.5,"c":6},{"p":0.15,"a":126.8,"c":41},{"p":0.15,"a":127.0,"c":8},{"p":0.15,"a":127.3,"c":25},{"p":0.15,"a":127.5,"c":9},{"p":0.15,"a":127.8,"c":30},{"p":0.15,"a":128.0,"c":60},{"p":0.15,"a":128.2,"c":10},{"p":0.15,"a":128.4,"c":35},{"p":0.15,"a":128.6,"c":10},{"p":0.15,"a":128.9,"c":25},{"p":0.15,"a":129.1,"c":10},{"p":0.15,"a":129.3,"c":43},{"p":0.15,"a":129.5,"c":10},{"p":0.15,"a":129.7,"c":30},{"p":0.15,"a":129.9,"c":48},{"p":0.15,"a":130.1,"c":9},{"p":0.15,"a":130.3,"c":35},{"p":0.15,"a":130.5,"c":60},{"p":0.15,"a":130.7,"c":8},{"p":0.15,"a":131.0,"c":25},{"p":0.15,"a":131.2,"c":6},{"p":0.15,"a":131.5,"c":1.5},{"p":0.15,"a":134.4,"c":1.5},{"p":0.15,"a":134.5,"c":2.5},{"p":0.15,"a":138.5,"c":2.5},{"p":0.15,"a":138.6,"c":6},{"p":0.15,"a":138.8,"c":26},{"p":0.15,"a":139.0,"c":8},{"p":0.15,"a":139.3,"c":20},{"p":0.15,"a":139.5,"c":12},{"p":0.15,"a":139.8,"c":35},{"p":0.15,"a":140.0,"c":12},{"p":0.15,"a":140.3,"c":60},{"p":0.15,"a":140.5,"c":14},{"p":0.15,"a":140.8,"c":60},{"p":0.15,"a":141.0,"c":60},{"p":0.15,"a":141.2,"c":13},{"p":0.15,"a":141.5,"c":35},{"p":0.15,"a":141.7,"c":10},{"p":0.15,"a":142.0,"c":30},{"p":0.15,"a":142.2,"c":8},{"p":0.15,"a":142.5,"c":15},{"p":0.15,"a":142.7,"c":6},{"p":0.15,"a":143.0,"c":25},{"p":0.15,"a":143.2,"c":6},{"p":0.15,"a":143.5,"c":10},{"p":0.15,"a":143.7,"c":4},{"p":0.15,"a":144.5,"c":4},{"p":0.15,"a":144.6,"c":6},{"p":0.15,"a":144.9,"c":30},{"p":0.15,"a":145.2,"c":60},{"p":0.15,"a":145.4,"c":8},{"p":0.15,"a":145.7,"c":35},{"p":0.15,"a":145.9,"c":50},{"p":0.15,"a":146.1,"c":9},{"p":0.15,"a":146.4,"c":30},{"p":0.15,"a":146.6,"c":10},{"p":0.15,"a":146.8,"c":45},{"p":0.15,"a":147.0,"c":9},{"p":0.15,"a":147.3,"c":25},{"p":0.15,"a":147.5,"c":9},{"p":0.15,"a":147.7,"c":43},{"p":0.15,"a":147.9,"c":6},{"p":0.15,"a":148.2,"c":4},{"p":0.15,"a":150.2,"c":4},{"p":0.15,"a":150.3,"c":8},{"p":0.15,"a":150.5,"c":40},{"p":0.15,"a":150.7,"c":60},{"p":0.15,"a":150.9,"c":12},{"p":0.15,"a":151.1,"c":45},{"p":0.15,"a":151.3,"c":15},{"p":0.15,"a":151.5,"c":50},{"p":0.15,"a":151.7,"c":15},{"p":0.15,"a":151.9,"c":35},{"p":0.15,"a":152.1,"c":14},{"p":0.15,"a":152.3,"c":48},{"p":0.15,"a":152.5,"c":13},{"p":0.15,"a":152.7,"c":30},{"p":0.15,"a":152.9,"c":50},{"p":0.15,"a":153.1,"c":10},{"p":0.15,"a":153.3,"c":30},{"p":0.15,"a":153.6,"c":45},{"p":0.15,"a":153.8,"c":5},{"p":0.15,"a":154.0,"c":2.5},{"p":0.15,"a":156.6,"c":2.5},{"p":0.15,"a":156.7,"c":1.8},{"p":0.15,"a":161.6,"c":1.8},{"p":0.15,"a":161.7,"c":6},{"p":0.15,"a":161.9,"c":51},{"p":0.15,"a":162.1,"c":6},{"p":0.15,"a":162.4,"c":20},{"p":0.15,"a":162.6,"c":6},{"p":0.15,"a":162.9,"c":15},{"p":0.15,"a":163.1,"c":48},{"p":0.15,"a":163.3,"c":5},{"p":0.15,"a":163.5,"c":2.5},{"p":0.15,"a":167.6,"c":2.5},{"p":0.15,"a":167.7,"c":5},{"p":0.15,"a":168.0,"c":60},{"p":0.15,"a":168.2,"c":6},{"p":0.15,"a":168.5,"c":35},{"p":0.15,"a":168.7,"c":6},{"p":0.15,"a":168.9,"c":60},{"p":0.15,"a":169.1,"c":6},{"p":0.15,"a":169.4,"c":40},{"p":0.15,"a":169.6,"c":7},{"p":0.15,"a":169.8,"c":60},{"p":0.15,"a":170.0,"c":7},{"p":0.15,"a":170.3,"c":35},{"p":0.15,"a":170.5,"c":7},{"p":0.15,"a":170.7,"c":60},{"p":0.15,"a":170.9,"c":7},{"p":0.15,"a":171.2,"c":40},{"p":0.15,"a":171.4,"c":7},{"p":0.15,"a":171.7,"c":30},{"p":0.15,"a":171.9,"c":8},{"p":0.15,"a":172.1,"c":45},{"p":0.15,"a":172.3,"c":8},{"p":0.15,"a":172.6,"c":30},{"p":0.15,"a":172.8,"c":8},{"p":0.15,"a":173.1,"c":35},{"p":0.15,"a":173.3,"c":9},{"p":0.15,"a":173.6,"c":40},{"p":0.15,"a":173.8,"c":9},{"p":0.15,"a":174.1,"c":30},{"p":0.15,"a":174.3,"c":60},{"p":0.15,"a":174.5,"c":9},{"p":0.15,"a":174.8,"c":45},{"p":0.15,"a":175.0,"c":60},{"p":0.15,"a":175.2,"c":10},{"p":0.15,"a":175.5,"c":40},{"p":0.15,"a":175.7,"c":11},{"p":0.15,"a":176.0,"c":50},{"p":0.15,"a":176.1,"c":60},{"p":0.15,"a":176.3,"c":12},{"p":0.15,"a":176.6,"c":40},{"p":0.15,"a":176.8,"c":12},{"p":0.15,"a":177.0,"c":60},{"p":0.15,"a":177.2,"c":13},{"p":0.15,"a":177.5,"c":45},{"p":0.15,"a":177.7,"c":14},{"p":0.15,"a":178.0,"c":50},{"p":0.15,"a":178.3,"c":60},{"p":0.15,"a":178.5,"c":16},{"p":0.15,"a":178.8,"c":60},{"p":0.15,"a":179.0,"c":18},{"p":0.15,"a":179.3,"c":60},{"p":0.15,"a":179.5,"c":22},{"p":0.15,"a":179.8,"c":60},{"p":0.15,"a":180.0,"c":0}]},
"facet":{"row":{"field":"p","type":"ordinal","title":null}},
"spec":{"width":741,"height":84,"mark":{"type":"line","color":"black","strokeWidth":1.5,"clip":true},
"encoding":{"x":{"field":"a","type":"quantitative","title":"入射角度/(°)","scale":{"domain":[-10,190],"nice":false,"zero":false},"axis":{"values":[0,15,30,45,60,75,90,105,120,135,150,165,180],"labelExpr":"datum.value % 30 == 0 ? datum.label : ''"}},
"y":{"field":"c","type":"quantitative","title":"碰撞次数","scale":{"domain":[-10,60],"nice":false,"zero":false},"axis":{"values":[0,10,20,30,40,50,60],"labelExpr":"datum.value % 20 == 0 ? datum.label : ''"}}}}},
{"data":{"values":[{"p":0.2,"a":0,"c":60},{"p":0.2,"a":0.2,"c":40},{"p":0.2,"a":0.4,"c":60},{"p":0.2,"a":0.6,"c":28},{"p":0.2,"a":0.9,"c":50},{"p":0.2,"a":1.1,"c":60},{"p":0.2,"a":1.3,"c":20},{"p":0.2,"a":1.6,"c":45},{"p":0.2,"a":1.8,"c":17},{"p":0.2,"a":2.0,"c":60},{"p":0.2,"a":2.2,"c":15},{"p":0.2,"a":2.5,"c":40},{"p":0.2,"a":2.7,"c":13},{"p":0.2,"a":2.9,"c":60},{"p":0.2,"a":3.1,"c":12},{"p":0.2,"a":3.4,"c":35},{"p":0.2,"a":3.6,"c":11},{"p":0.2,"a":3.8,"c":60},{"p":0.2,"a":4.0,"c":10},{"p":0.2,"a":4.3,"c":40},{"p":0.2,"a":4.5,"c":10},{"p":0.2,"a":4.7,"c":60},{"p":0.2,"a":4.9,"c":9},{"p":0.2,"a":5.2,"c":35},{"p":0.2,"a":5.4,"c":9},{"p":0.2,"a":5.6,"c":60},{"p":0.2,"a":5.8,"c":9},{"p":0.2,"a":6.0,"c":60},{"p":0.2,"a":6.2,"c":8},{"p":0.2,"a":6.5,"c":30},{"p":0.2,"a":6.7,"c":8},{"p":0.2,"a":6.9,"c":60},{"p":0.2,"a":7.1,"c":8},{"p":0.2,"a":7.4,"c":35},{"p":0.2,"a":7.6,"c":50},{"p":0.2,"a":7.8,"c":8},{"p":0.2,"a":8.1,"c":30},{"p":0.2,"a":8.3,"c":8},{"p":0.2,"a":8.5,"c":40},{"p":0.2,"a":8.7,"c":60},{"p":0.2,"a":8.9,"c":8},{"p":0.2,"a":9.2,"c":25},{"p":0.2,"a":9.4,"c":8},{"p":0.2,"a":9.6,"c":30},{"p":0.2,"a":9.8,"c":7},{"p":0.2,"a":10.1,"c":20},{"p":0.2,"a":10.3,"c":7},{"p":0.2,"a":10.6,"c":25},{"p":0.2,"a":10.8,"c":7},{"p":0.2,"a":11.0,"c":39},{"p":0.2,"a":11.2,"c":7},{"p":0.2,"a":11.4,"c":42},{"p":0.2,"a":11.6,"c":7},{"p":0.2,"a":11.9,"c":20},{"p":0.2,"a":12.1,"c":7},{"p":0.2,"a":12.3,"c":31},{"p":0.2,"a":12.5,"c":7},{"p":0.2,"a":12.8,"c":18},{"p":0.2,"a":13.0,"c":7},{"p":0.2,"a":13.3,"c":15},{"p":0.2,"a":13.5,"c":6},{"p":0.2,"a":13.7,"c":23},{"p":0.2,"a":13.9,"c":6},{"p":0.2,"a":14.2,"c":15},{"p":0.2,"a":14.4,"c":7},{"p":0.2,"a":14.6,"c":60},{"p":0.2,"a":14.8,"c":8},{"p":0.2,"a":15.0,"c":60},{"p":0.2,"a":15.2,"c":8},{"p":0.2,"a":15.5,"c":60},{"p":0.2,"a":15.7,"c":7},{"p":0.2,"a":16.0,"c":25},{"p":0.2,"a":16.2,"c":7},{"p":0.2,"a":16.4,"c":57},{"p":0.2,"a":16.6,"c":7},{"p":0.2,"a":16.9,"c":25},{"p":0.2,"a":17.1,"c":7},{"p":0.2,"a":17.3,"c":55},{"p":0.2,"a":17.5,"c":7},{"p":0.2,"a":17.7,"c":50},{"p":0.2,"a":17.9,"c":6},{"p":0.2,"a":18.1,"c":20},{"p":0.2,"a":18.4,"c":35},{"p":0.2,"a":18.6,"c":6},{"p":0.2,"a":19.8,"c":6},{"p":0.2,"a":20.0,"c":8},{"p":0.2,"a":20.2,"c":30},{"p":0.2,"a":20.4,"c":60},{"p":0.2,"a":20.6,"c":60},{"p":0.2,"a":20.8,"c":10},{"p":0.2,"a":21.1,"c":40},{"p":0.2,"a":21.3,"c":50},{"p":0.2,"a":21.5,"c":10},{"p":0.2,"a":21.8,"c":30},{"p":0.2,"a":22.0,"c":9},{"p":0.2,"a":22.2,"c":40},{"p":0.2,"a":22.4,"c":9},{"p":0.2,"a":22.7,"c":35},{"p":0.2,"a":22.9,"c":8},{"p":0.2,"a":23.1,"c":20},{"p":0.2,"a":23.3,"c":26},{"p":0.2,"a":23.5,"c":8},{"p":0.2,"a":23.8,"c":15},{"p":0.2,"a":24.0,"c":26},{"p":0.2,"a":24.2,"c":7},{"p":0.2,"a":24.5,"c":30},{"p":0.2,"a":24.7,"c":7},{"p":0.2,"a":25.0,"c":20},{"p":0.2,"a":25.2,"c":7},{"p":0.2,"a":25.4,"c":35},{"p":0.2,"a":25.6,"c":6},{"p":0.2,"a":25.9,"c":5},{"p":0.2,"a":26.1,"c":2},{"p":0.2,"a":29.4,"c":2},{"p":0.2,"a":29.5,"c":3},{"p":0.2,"a":33.8,"c":3},{"p":0.2,"a":34.0,"c":6},{"p":0.2,"a":34.2,"c":29},{"p":0.2,"a":34.4,"c":7},{"p":0.2,"a":34.7,"c":15},{"p":0.2,"a":34.9,"c":8},{"p":0.2,"a":35.2,"c":20},{"p":0.2,"a":35.4,"c":9},{"p":0.2,"a":35.6,"c":42},{"p":0.2,"a":35.8,"c":9},{"p":0.2,"a":36.0,"c":30},{"p":0.2,"a":36.2,"c":44},{"p":0.2,"a":36.4,"c":10},{"p":0.2,"a":36.6,"c":25},{"p":0.2,"a":36.8,"c":38},{"p":0.2,"a":37.0,"c":11},{"p":0.2,"a":37.3,"c":30},{"p":0.2,"a":37.5,"c":12},{"p":0.2,"a":37.7,"c":60},{"p":0.2,"a":37.9,"c":13},{"p":0.2,"a":38.1,"c":40},{"p":0.2,"a":38.3,"c":60},{"p":0.2,"a":38.5,"c":14},{"p":0.2,"a":38.7,"c":60},{"p":0.2,"a":38.9,"c":60},{"p":0.2,"a":39.1,"c":12},{"p":0.2,"a":39.4,"c":30},{"p":0.2,"a":39.6,"c":9},{"p":0.2,"a":39.9,"c":20},{"p":0.2,"a":40.1,"c":5},{"p":0.2,"a":40.4,"c":1.5},{"p":0.2,"a":49.2,"c":1.5},{"p":0.2,"a":49.3,"c":3},{"p":0.2,"a":52.7,"c":3},{"p":0.2,"a":52.8,"c":6},{"p":0.2,"a":53.0,"c":30},{"p":0.2,"a":53.2,"c":9},{"p":0.2,"a":53.4,"c":45},{"p":0.2,"a":53.6,"c":12},{"p":0.2,"a":53.8,"c":60},{"p":0.2,"a":54.0,"c":14},{"p":0.2,"a":54.2,"c":60},{"p":0.2,"a":54.4,"c":17},{"p":0.2,"a":54.6,"c":60},{"p":0.2,"a":54.8,"c":20},{"p":0.2,"a":55.0,"c":60},{"p":0.2,"a":55.2,"c":23},{"p":0.2,"a":55.4,"c":60},{"p":0.2,"a":55.6,"c":25},{"p":0.2,"a":55.8,"c":60},{"p":0.2,"a":56.0,"c":22},{"p":0.2,"a":56.2,"c":50},{"p":0.2,"a":56.4,"c":17},{"p":0.2,"a":56.6,"c":40},{"p":0.2,"a":56.8,"c":12},{"p":0.2,"a":57.0,"c":25},{"p":0.2,"a":57.2,"c":8},{"p":0.2,"a":57.5,"c":4},{"p":0.2,"a":62.6,"c":4},{"p":0.2,"a":62.7,"c":6},{"p":0.2,"a":62.9,"c":20},{"p":0.2,"a":63.1,"c":8},{"p":0.2,"a":63.4,"c":60},{"p":0.2,"a":63.6,"c":10},{"p":0.2,"a":63.9,"c":30},{"p":0.2,"a":64.1,"c":10},{"p":0.2,"a":64.3,"c":60},{"p":0.2,"a":64.5,"c":10},{"p":0.2,"a":64.8,"c":25},{"p":0.2,"a":65.0,"c":10},{"p":0.2,"a":65.2,"c":40},{"p":0.2,"a":65.4,"c":9},{"p":0.2,"a":65.7,"c":20},{"p":0.2,"a":65.9,"c":38},{"p":0.2,"a":66.1,"c":9},{"p":0.2,"a":66.4,"c":25},{"p":0.2,"a":66.6,"c":8},{"p":0.2,"a":66.9,"c":20},{"p":0.2,"a":67.2,"c":30},{"p":0.2,"a":67.4,"c":7},{"p":0.2,"a":67.7,"c":15},{"p":0.2,"a":67.9,"c":22},{"p":0.2,"a":68.1,"c":5},{"p":0.2,"a":68.3,"c":4},{"p":0.2,"a":70.9,"c":4},{"p":0.2,"a":71.0,"c":7},{"p":0.2,"a":71.2,"c":25},{"p":0.2,"a":71.4,"c":8},{"p":0.2,"a":71.6,"c":57},{"p":0.2,"a":71.8,"c":10},{"p":0.2,"a":72.0,"c":35},{"p":0.2,"a":72.2,"c":60},{"p":0.2,"a":72.4,"c":12},{"p":0.2,"a":72.7,"c":35},{"p":0.2,"a":72.9,"c":50},{"p":0.2,"a":73.1,"c":11},{"p":0.2,"a":73.4,"c":30},{"p":0.2,"a":73.6,"c":10},{"p":0.2,"a":73.8,"c":40},{"p":0.2,"a":74.0,"c":9},{"p":0.2,"a":74.2,"c":25},{"p":0.2,"a":74.4,"c":36},{"p":0.2,"a":74.6,"c":8},{"p":0.2,"a":74.9,"c":20},{"p":0.2,"a":75.1,"c":7},{"p":0.2,"a":75.3,"c":25},{"p":0.2,"a":75.5,"c":5},{"p":0.2,"a":75.8,"c":2.5},{"p":0.2,"a":81.6,"c":2.5},{"p":0.2,"a":81.8,"c":5},{"p":0.2,"a":82.0,"c":15},{"p":0.2,"a":82.2,"c":6},{"p":0.2,"a":82.4,"c":25},{"p":0.2,"a":82.6,"c":7},{"p":0.2,"a":82.9,"c":15},{"p":0.2,"a":83.1,"c":8},{"p":0.2,"a":83.3,"c":40},{"p":0.2,"a":83.5,"c":8},{"p":0.2,"a":83.7,"c":20},{"p":0.2,"a":83.9,"c":43},{"p":0.2,"a":84.1,"c":9},{"p":0.2,"a":84.3,"c":60},{"p":0.2,"a":84.5,"c":8},{"p":0.2,"a":84.8,"c":45},{"p":0.2,"a":85.0,"c":7},{"p":0.2,"a":85.3,"c":25},{"p":0.2,"a":85.5,"c":5},{"p":0.2,"a":85.8,"c":4},{"p":0.2,"a":86.7,"c":4},{"p":0.2,"a":86.9,"c":26},{"p":0.2,"a":87.1,"c":5},{"p":0.2,"a":87.8,"c":5},{"p":0.2,"a":88.5,"c":6},{"p":0.2,"a":89.0,"c":8},{"p":0.2,"a":89.3,"c":12},{"p":0.2,"a":89.5,"c":25},{"p":0.2,"a":89.7,"c":60},{"p":0.2,"a":89.9,"c":10},{"p":0.2,"a":90.1,"c":1},{"p":0.2,"a":105.5,"c":1},{"p":0.2,"a":105.6,"c":2},{"p":0.2,"a":119.3,"c":2},{"p":0.2,"a":119.4,"c":5},{"p":0.2,"a":119.6,"c":15},{"p":0.2,"a":119.8,"c":30},{"p":0.2,"a":120.0,"c":10},{"p":0.2,"a":120.2,"c":40},{"p":0.2,"a":120.4,"c":12},{"p":0.2,"a":120.6,"c":25},{"p":0.2,"a":120.8,"c":10},{"p":0.2,"a":121.0,"c":60},{"p":0.2,"a":121.2,"c":10},{"p":0.2,"a":121.4,"c":20},{"p":0.2,"a":121.6,"c":5},{"p":0.2,"a":121.9,"c":4},{"p":0.2,"a":124.1,"c":4},{"p":0.2,"a":124.2,"c":6},{"p":0.2,"a":124.5,"c":60},{"p":0.2,"a":124.7,"c":8},{"p":0.2,"a":124.9,"c":30},{"p":0.2,"a":125.1,"c":9},{"p":0.2,"a":125.3,"c":60},{"p":0.2,"a":125.5,"c":9},{"p":0.2,"a":125.7,"c":20},{"p":0.2,"a":125.9,"c":35},{"p":0.2,"a":126.1,"c":8},{"p":0.2,"a":126.4,"c":25},{"p":0.2,"a":126.6,"c":39},{"p":0.2,"a":126.8,"c":8},{"p":0.2,"a":127.1,"c":20},{"p":0.2,"a":127.3,"c":7},{"p":0.2,"a":127.6,"c":25},{"p":0.2,"a":127.8,"c":8},{"p":0.2,"a":128.1,"c":30},{"p":0.2,"a":128.3,"c":9},{"p":0.2,"a":128.6,"c":40},{"p":0.2,"a":128.8,"c":60},{"p":0.2,"a":129.0,"c":10},{"p":0.2,"a":129.3,"c":30},{"p":0.2,"a":129.5,"c":10},{"p":0.2,"a":129.7,"c":42},{"p":0.2,"a":129.9,"c":10},{"p":0.2,"a":130.1,"c":60},{"p":0.2,"a":130.3,"c":10},{"p":0.2,"a":130.5,"c":35},{"p":0.2,"a":130.8,"c":47},{"p":0.2,"a":131.0,"c":9},{"p":0.2,"a":131.3,"c":25},{"p":0.2,"a":131.5,"c":35},{"p":0.2,"a":131.7,"c":9},{"p":0.2,"a":132.0,"c":20},{"p":0.2,"a":132.2,"c":28},{"p":0.2,"a":132.4,"c":8},{"p":0.2,"a":132.7,"c":30},{"p":0.2,"a":132.9,"c":38},{"p":0.2,"a":133.1,"c":8},{"p":0.2,"a":133.4,"c":25},{"p":0.2,"a":133.6,"c":42},{"p":0.2,"a":133.8,"c":7},{"p":0.2,"a":134.1,"c":30},{"p":0.2,"a":134.3,"c":60},{"p":0.2,"a":134.5,"c":4},{"p":0.2,"a":134.7,"c":2},{"p":0.2,"a":141.4,"c":2},{"p":0.2,"a":141.5,"c":5},{"p":0.2,"a":141.8,"c":20},{"p":0.2,"a":142.0,"c":46},{"p":0.2,"a":142.2,"c":8},{"p":0.2,"a":142.4,"c":25},{"p":0.2,"a":142.6,"c":46},{"p":0.2,"a":142.8,"c":9},{"p":0.2,"a":143.1,"c":30},{"p":0.2,"a":143.3,"c":43},{"p":0.2,"a":143.5,"c":10},{"p":0.2,"a":143.7,"c":25},{"p":0.2,"a":143.9,"c":46},{"p":0.2,"a":144.1,"c":9},{"p":0.2,"a":144.4,"c":30},{"p":0.2,"a":144.6,"c":38},{"p":0.2,"a":144.8,"c":7},{"p":0.2,"a":145.1,"c":5},{"p":0.2,"a":145.9,"c":5},{"p":0.2,"a":146.0,"c":6},{"p":0.2,"a":146.3,"c":25},{"p":0.2,"a":146.5,"c":8},{"p":0.2,"a":146.8,"c":40},{"p":0.2,"a":147.1,"c":60},{"p":0.2,"a":147.3,"c":10},{"p":0.2,"a":147.5,"c":30},{"p":0.2,"a":147.8,"c":44},{"p":0.2,"a":148.0,"c":9},{"p":0.2,"a":148.3,"c":25},{"p":0.2,"a":148.5,"c":9},{"p":0.2,"a":148.7,"c":40},{"p":0.2,"a":148.9,"c":8},{"p":0.2,"a":149.2,"c":20},{"p":0.2,"a":149.4,"c":8},{"p":0.2,"a":149.7,"c":46},{"p":0.2,"a":149.9,"c":6},{"p":0.2,"a":150.2,"c":5},{"p":0.2,"a":152.5,"c":5},{"p":0.2,"a":152.6,"c":8},{"p":0.2,"a":152.8,"c":40},{"p":0.2,"a":153.0,"c":12},{"p":0.2,"a":153.2,"c":60},{"p":0.2,"a":153.4,"c":15},{"p":0.2,"a":153.6,"c":60},{"p":0.2,"a":153.8,"c":18},{"p":0.2,"a":154.0,"c":60},{"p":0.2,"a":154.2,"c":16},{"p":0.2,"a":154.4,"c":60},{"p":0.2,"a":154.6,"c":13},{"p":0.2,"a":154.8,"c":45},{"p":0.2,"a":155.0,"c":9},{"p":0.2,"a":155.2,"c":30},{"p":0.2,"a":155.4,"c":5},{"p":0.2,"a":155.6,"c":2.5},{"p":0.2,"a":163.3,"c":2.5},{"p":0.2,"a":163.4,"c":6},{"p":0.2,"a":163.6,"c":23},{"p":0.2,"a":163.8,"c":8},{"p":0.2,"a":164.0,"c":20},{"p":0.2,"a":164.2,"c":60},{"p":0.2,"a":164.4,"c":6},{"p":0.2,"a":164.6,"c":4},{"p":0.2,"a":168.4,"c":4},{"p":0.2,"a":168.5,"c":6},{"p":0.2,"a":168.8,"c":25},{"p":0.2,"a":169.0,"c":6},{"p":0.2,"a":169.2,"c":35},{"p":0.2,"a":169.4,"c":41},{"p":0.2,"a":169.6,"c":7},{"p":0.2,"a":169.9,"c":30},{"p":0.2,"a":170.2,"c":40},{"p":0.2,"a":170.4,"c":7},{"p":0.2,"a":170.7,"c":35},{"p":0.2,"a":170.9,"c":8},{"p":0.2,"a":171.1,"c":60},{"p":0.2,"a":171.3,"c":8},{"p":0.2,"a":171.6,"c":40},{"p":0.2,"a":171.8,"c":8},{"p":0.2,"a":172.1,"c":30},{"p":0.2,"a":172.3,"c":9},{"p":0.2,"a":172.5,"c":55},{"p":0.2,"a":172.7,"c":9},{"p":0.2,"a":173.0,"c":35},{"p":0.2,"a":173.2,"c":10},{"p":0.2,"a":173.4,"c":53},{"p":0.2,"a":173.6,"c":10},{"p":0.2,"a":173.9,"c":40},{"p":0.2,"a":174.1,"c":11},{"p":0.2,"a":174.4,"c":45},{"p":0.2,"a":174.6,"c":11},{"p":0.2,"a":174.8,"c":35},{"p":0.2,"a":175.0,"c":60},{"p":0.2,"a":175.2,"c":12},{"p":0.2,"a":175.4,"c":45},{"p":0.2,"a":175.6,"c":60},{"p":0.2,"a":175.8,"c":13},{"p":0.2,"a":176.1,"c":45},{"p":0.2,"a":176.3,"c":14},{"p":0.2,"a":176.5,"c":60},{"p":0.2,"a":176.7,"c":15},{"p":0.2,"a":177.0,"c":50},{"p":0.2,"a":177.2,"c":16},{"p":0.2,"a":177.4,"c":60},{"p":0.2,"a":177.6,"c":18},{"p":0.2,"a":177.9,"c":50},{"p":0.2,"a":178.1,"c":19},{"p":0.2,"a":178.3,"c":60},{"p":0.2,"a":178.5,"c":21},{"p":0.2,"a":178.8,"c":60},{"p":0.2,"a":179.0,"c":23},{"p":0.2,"a":179.3,"c":60},{"p":0.2,"a":179.5,"c":25},{"p":0.2,"a":179.8,"c":60},{"p":0.2,"a":180.0,"c":0}]},
"facet":{"row":{"field":"p","type":"ordinal","title":null}},
"spec":{"width":741,"height":84,"mark":{"type":"line","color":"black","strokeWidth":1.5,"clip":true},
"encoding":{"x":{"field":"a","type":"quantitative","title":"入射角度/(°)","scale":{"domain":[-10,190],"nice":false,"zero":false},"axis":{"values":[0,15,30,45,60,75,90,105,120,135,150,165,180],"labelExpr":"datum.value % 30 == 0 ? datum.label : ''"}},
"y":{"field":"c","type":"quantitative","title":"碰撞次数","scale":{"domain":[-5,60],"nice":false,"zero":false},"axis":{"values":[0,10,20,30,40,50,60],"labelExpr":"datum.value % 20 == 0 ? datum.label : ''"}}}}}
]}
]}
